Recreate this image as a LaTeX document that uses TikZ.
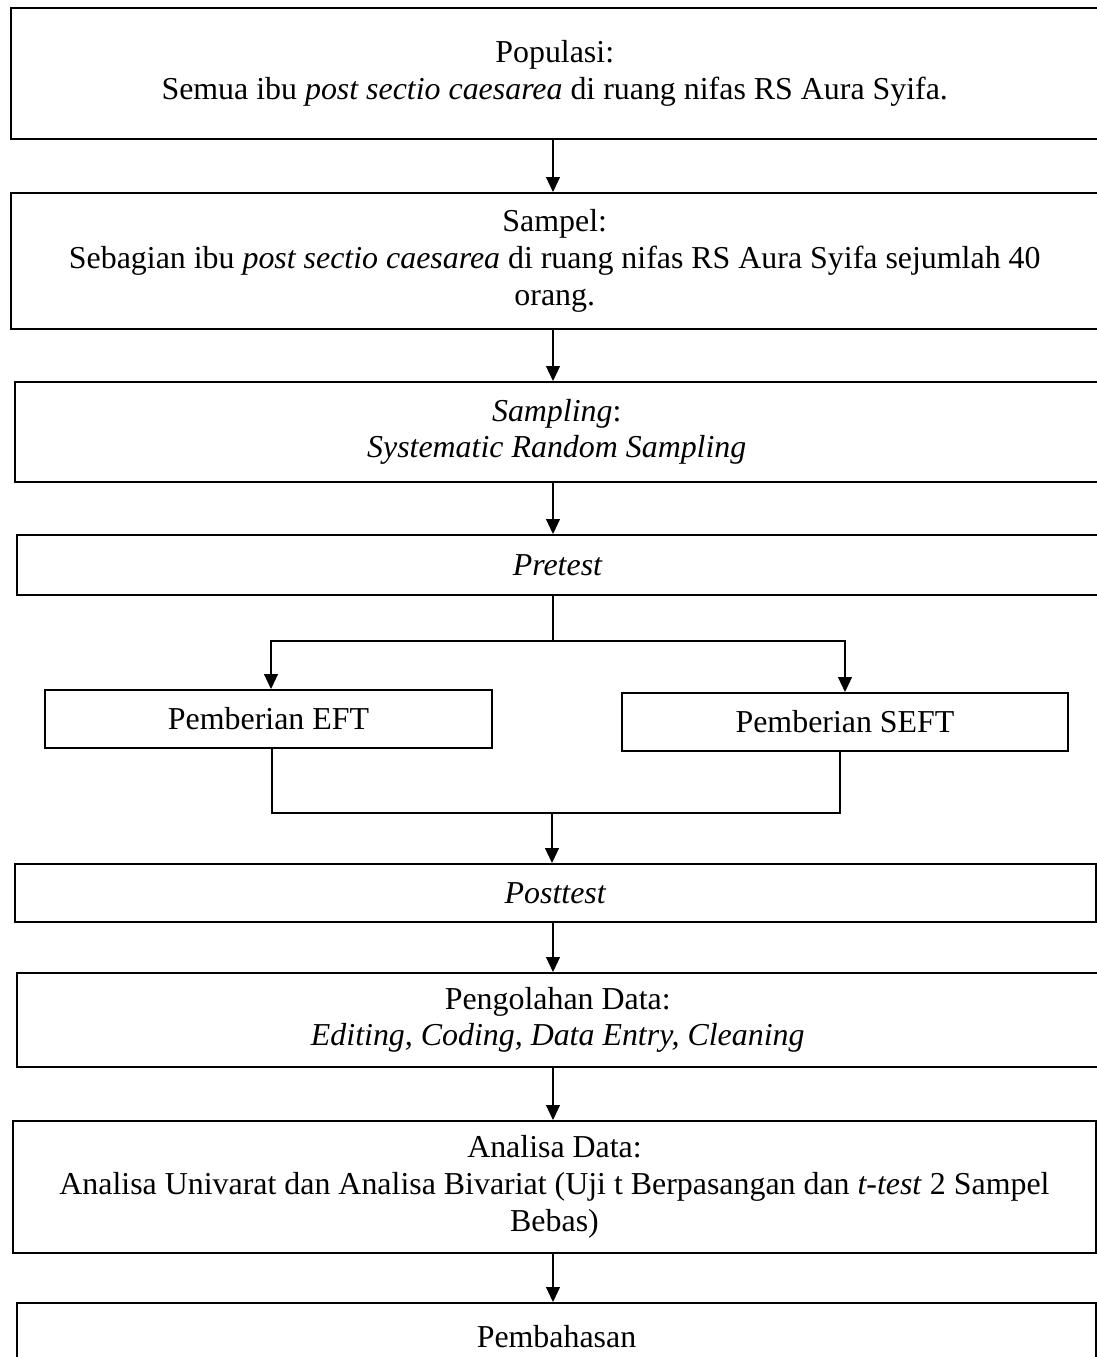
\documentclass[tikz,border=0pt]{standalone}
\usepackage{fontspec}
\setmainfont{Liberation Serif}
\usetikzlibrary{arrows.meta}
\begin{document}
\begin{tikzpicture}[x=1pt,y=-1pt,
  box/.style={draw, line width=2pt, rectangle, inner sep=0pt, align=center,
              font=\fontsize{31.9}{36.7}\selectfont},
  conn/.style={line width=1.1pt},
  arr/.style={conn, -{Triangle[width=14pt,length=15pt]}}]
\useasboundingbox[fill=white] (0,0) rectangle (1097,1357);

\node[box, minimum width=1087.5pt, minimum height=131pt] (pop) at (554.75,73.5)
  {Populasi:\\Semua ibu \textit{post sectio caesarea} di ruang nifas RS Aura Syifa.};
\node[box, minimum width=1087.5pt, minimum height=136pt] (samp) at (554.75,261)
  {Sampel:\\Sebagian ibu \textit{post sectio caesarea} di ruang nifas RS Aura Syifa sejumlah 40\\orang.};
\node[box, minimum width=1083.5pt, minimum height=100pt] (smpl) at (556.75,432)
  {\textit{Sampling}:\\\textit{Systematic Random Sampling}};
\node[box, minimum width=1081.5pt, minimum height=60pt] (pre) at (557.75,565)
  {\textit{Pretest}};
\node[box, minimum width=447pt, minimum height=58pt] (eft) at (268.5,719)
  {Pemberian EFT};
\node[box, minimum width=446pt, minimum height=58pt] (seft) at (845,722)
  {Pemberian SEFT};
\node[box, minimum width=1081pt, minimum height=58pt] (post) at (555.5,893)
  {\textit{Posttest}};
\node[box, minimum width=1081.5pt, minimum height=94pt] (olah) at (557.75,1020)
  {Pengolahan Data:\\\textit{Editing, Coding, Data Entry, Cleaning}};
\node[box, minimum width=1083pt, minimum height=132pt] (anal) at (554.5,1187)
  {Analisa Data:\\Analisa Univarat dan Analisa Bivariat (Uji t Berpasangan dan \textit{t-test} 2 Sampel\\Bebas)};
\node[box, minimum width=1079pt, minimum height=68pt] (bahas) at (556.5,1337)
  {Pembahasan};

\coordinate (colx) at (553,0);
\draw[arr] (pop.south -| colx) -- (samp.north -| colx);
\draw[arr] (samp.south -| colx) -- (smpl.north -| colx);
\draw[arr] (smpl.south -| colx) -- (pre.north -| colx);

\draw[conn] (pre.south -| colx) -- ++(0,45) coordinate (split);
\draw[arr] (split) -| ([xshift=2.5pt]eft.north);
\draw[arr] (split) -| (seft.north);

\coordinate (merge) at (552,813);
\draw[conn] ([xshift=3.5pt]eft.south) |- (merge) -| ([xshift=-5pt]seft.south);
\draw[arr] (merge) -- (post.north -| merge);

\draw[arr] (post.south -| colx) -- (olah.north -| colx);
\draw[arr] (olah.south -| colx) -- (anal.north -| colx);
\draw[arr] (anal.south -| colx) -- (bahas.north -| colx);
\end{tikzpicture}
\end{document}
